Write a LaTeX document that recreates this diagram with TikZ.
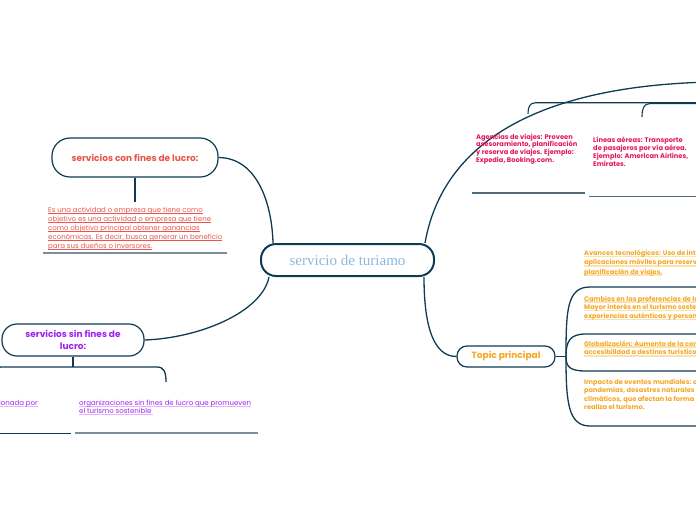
\documentclass[tikz,border=0pt]{standalone}
\usepackage{fontspec}
\setmainfont{Poppins}
\newfontfamily\serifc{Liberation Serif}
\definecolor{navy}{HTML}{0F3B53}
\definecolor{greyl}{HTML}{7E8E98}
\definecolor{slate}{HTML}{4F6A7A}
\definecolor{redt}{HTML}{E9554B}
\definecolor{crim}{HTML}{E3175C}
\definecolor{purp}{HTML}{A020F0}
\definecolor{lilac}{HTML}{E2B6F2}
\definecolor{orng}{HTML}{F5A623}
\definecolor{yband}{HTML}{FBE3B0}
\definecolor{lblue}{HTML}{8DB9DF}
\newsavebox\ulbox
\newcommand\ulc[4]{\sbox\ulbox{#4}\rlap{\textcolor{#1}{\rule[#2]{\wd\ulbox}{#3}}}\usebox\ulbox}
\newcommand\ulr[1]{\ulc{redt}{-1.4pt}{0.5pt}{#1}}
\newcommand\ulp[1]{\ulc{lilac}{-1.7pt}{1.2pt}{#1}}
\newcommand\ulo[1]{\ulc{yband}{-1.7pt}{1.4pt}{#1}}
\begin{document}
\begin{tikzpicture}[x=1pt,y=-1pt,
  conn/.style={draw=navy,line width=1.3pt},
  mainbox/.style={draw=navy,line width=2pt,rounded corners=15pt,fill=white,inner sep=0pt,
    font=\serifc\fontsize{15}{17}\selectfont,text=lblue},
  topicbox/.style={draw=navy,line width=1.2pt,fill=white,inner sep=0pt,align=center,
    font=\fontsize{9}{11.5}\selectfont\bfseries},
  txt/.style={anchor=base west,inner sep=0pt,align=left},
  greyline/.style={draw=greyl,line width=2pt},
  thinline/.style={draw=slate,line width=1.2pt}]
\useasboundingbox (0,0) rectangle (696,520);
\clip (0,0) rectangle (696,520);

% main nodes
\node[mainbox,anchor=center,minimum width=173pt,minimum height=32pt] (center) at (347.5,260) {servicio de turiamo};
\node[topicbox,anchor=center,rounded corners=18pt,minimum width=166pt,minimum height=39pt,text=redt] (con) at (135,157.5) {servicios con fines de lucro:};
\node[topicbox,anchor=center,rounded corners=15pt,minimum width=142pt,minimum height=32pt,text=purp] (sin) at (73,340) {servicios sin fines de\\lucro:};
\node[topicbox,anchor=center,rounded corners=10pt,minimum width=98pt,minimum height=21pt,text=orng] (topic) at (506,356.5) {Topic principal};

% connectors from center
\draw[conn] (con.east) .. controls (258,158) and (272,205) .. ([xshift=13pt]center.north west);
\draw[conn] (sin.east) .. controls (200,338) and (262,312) .. ([xshift=9pt]center.south west);
\coordinate (tr) at (712,82);
\draw[conn] ([xshift=-10pt]center.north east) .. controls (445,130) and (560,85) .. (tr);
\draw[conn] ([xshift=-11pt]center.south east) .. controls (424,330) and (435,356.5) .. (topic.west);

% con fines branch
\coordinate (conend) at (135,202);
\draw[line width=1.2pt,draw=navy] (con.south) -- (conend);
\node[txt,text=redt,font=\fontsize{7}{9}\selectfont] (contxt) at (48,248)
 {\ulr{Es una actividad o empresa  que tiene como}\\\ulr{objetivo es una actividad o empresa que tiene}\\\ulr{como objetivo principal obtener ganancias}\\\ulr{económicas. Es decir, busca generar un beneficio}\\\ulr{para sus dueños o inversores.}};
\draw[greyline] (43,252.7) -- (227,252.7);

% sin fines branch
\coordinate (sinj) at (73,367);
\coordinate (sinl) at (-8,384);
\coordinate (sinr) at (166,382);
\draw[line width=1.2pt,draw=navy] (sin.south) -- (sinj);
\draw[conn] (sinl) .. controls (-8,370) and (-5,367) .. (2,367) -- (157,367) .. controls (164,367) and (166,372) .. (sinr);
\node[txt,anchor=base east,text=purp,font=\fontsize{7}{8.6}\selectfont] (sintxtl) at (38,405) {\ulp{relacionada por}};
\draw[line width=1.2pt,draw=navy] (-5,433.5) -- (71,433.5);
\node[txt,text=purp,font=\fontsize{7}{8.6}\selectfont] (sintxtr) at (79,413.6)
 {\ulp{organizaciones  sin fines de lucro que promueven}\\\ulp{el turismo sostenible }};
\draw[greyline] (75,432.5) -- (258,432.5);

% top right bracket
\coordinate (agj) at (528,114);
\coordinate (lnj) at (642,117);
\draw[draw=navy,line width=1.1pt] (700,102.7) -- (536,102.7) .. controls (529.5,102.7) and (528,107) .. (agj);
\draw[draw=navy,line width=1.1pt] (700,103.6) -- (650,103.6) .. controls (643.5,103.6) and (642,109) .. (lnj);
\node[txt,text=crim,font=\fontsize{6.7}{7.9}\selectfont\bfseries] (agtxt) at (476,162.7)
 {Agencias de viajes: Proveen\\asesoramiento, planificación\\y reserva de viajes. Ejemplo:\\Expedia, Booking.com.};
\draw[thinline] (472,193) -- (585,193);
\node[txt,text=crim,font=\fontsize{6.7}{8.3}\selectfont\bfseries] (lntxt) at (593,166.9)
 {Líneas aéreas: Transporte\\de pasajeros por vía aérea.\\Ejemplo: American Airlines,\\Emirates.};
\draw[thinline] (589,196.5) -- (700,196.5);

% topic principal branch
\coordinate (tj) at (566,356.5);
\draw[conn] (topic.east) -- (tj);
\draw[conn] (tj) .. controls (566,310) and (567,287) .. (590,287) -- (700,287);
\draw[conn] (tj) .. controls (566,341) and (570,334) .. (586,334) -- (700,334);
\draw[conn] (tj) .. controls (566,367) and (570,371) .. (586,371) -- (700,371);
\draw[conn] (tj) .. controls (566,402) and (568,426) .. (590,426) -- (700,426);
\node[txt,text=orng,font=\fontsize{6.6}{9.3}\selectfont\bfseries] (avtxt) at (584,274.1)
 {\ulo{Avances tecnológicos: Uso de internet y}\\\ulo{aplicaciones móviles para reservas y}\\\ulo{planificación de viajes.}};
\node[txt,text=orng,font=\fontsize{6.6}{8.6}\selectfont\bfseries] (catxt) at (584,318.2)
 {\ulo{Cambios en las preferencias de los viajeros:}\\\ulo{Mayor interés en el turismo sostenible y}\\\ulo{experiencias auténticas y personalizadas.}};
\node[txt,text=orng,font=\fontsize{6.6}{8.8}\selectfont\bfseries] (gltxt) at (584,354.8)
 {\ulo{Globalización: Aumento de la conectividad y}\\\ulo{accesibilidad a destinos turísticos.}};
\node[txt,text=orng,font=\fontsize{6.6}{8.6}\selectfont\bfseries] (imtxt) at (584,409.8)
 {Impacto de eventos mundiales: como\\pandemias, desastres naturales o cambios\\climáticos, que afectan la forma en que se\\realiza el turismo.};
\end{tikzpicture}
\end{document}
